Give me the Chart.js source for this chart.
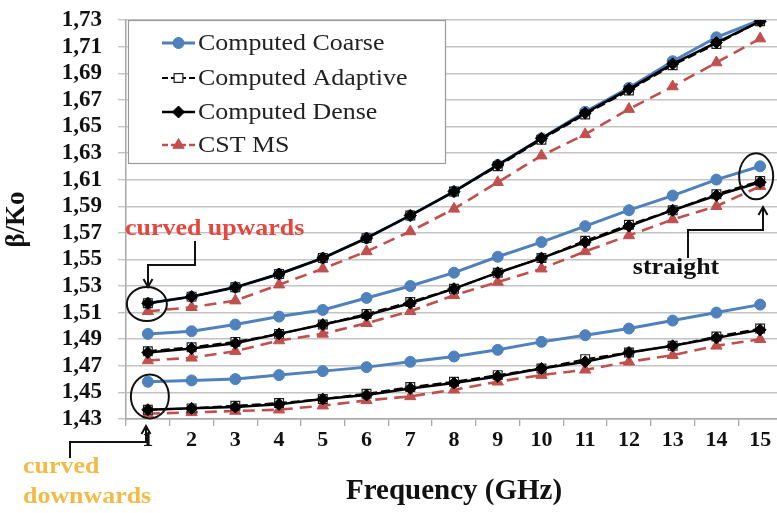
<!DOCTYPE html>
<html>
<head>
<meta charset="utf-8">
<script src="https://cdn.jsdelivr.net/npm/chart.js@4.4.1/dist/chart.umd.min.js"></script>
<style>
  html, body { margin: 0; padding: 0; background: #fff; overflow: hidden; }
  #wrap { width: 777px; height: 513px; overflow: hidden; position: relative; }
  canvas { display: block; }
</style>
</head>
<body>
<div id="wrap"><canvas id="c" width="790" height="513"></canvas></div>
<script>
// ---- data ----
const freqLabels = ['1','2','3','4','5','6','7','8','9','10','11','12','13','14','15'];

const coarseLow   = [1.458,1.459,1.460,1.463,1.466,1.469,1.473,1.477,1.482,1.488,1.493,1.498,1.504,1.510,1.516];
const coarseMid   = [1.494,1.496,1.501,1.507,1.512,1.521,1.530,1.540,1.552,1.563,1.575,1.587,1.598,1.610,1.620];
const coarseTop   = [1.517,1.522,1.529,1.539,1.551,1.566,1.583,1.601,1.621,1.641,1.661,1.679,1.699,1.717,1.730];

const adaptiveLow = [1.437,1.438,1.440,1.442,1.445,1.449,1.454,1.458,1.463,1.468,1.475,1.480,1.485,1.492,1.498];
const adaptiveMid = [1.481,1.484,1.488,1.494,1.501,1.509,1.518,1.528,1.540,1.551,1.564,1.576,1.587,1.599,1.609];
const adaptiveTop = [1.517,1.522,1.529,1.539,1.551,1.566,1.583,1.601,1.620,1.640,1.659,1.677,1.696,1.712,1.729];

const denseLow    = [1.437,1.438,1.439,1.441,1.445,1.448,1.453,1.457,1.462,1.468,1.473,1.480,1.485,1.491,1.497];
const denseMid    = [1.480,1.483,1.487,1.494,1.501,1.508,1.517,1.528,1.540,1.551,1.563,1.575,1.587,1.598,1.608];
const denseTop    = [1.517,1.522,1.529,1.539,1.551,1.566,1.583,1.601,1.621,1.641,1.660,1.678,1.697,1.713,1.729];

const cstLow      = [1.434,1.435,1.436,1.437,1.440,1.444,1.447,1.452,1.458,1.463,1.467,1.473,1.478,1.485,1.490];
const cstMid      = [1.474,1.476,1.481,1.489,1.494,1.502,1.511,1.523,1.533,1.543,1.556,1.568,1.580,1.590,1.605];
const cstTop      = [1.511,1.514,1.519,1.531,1.543,1.556,1.571,1.588,1.608,1.628,1.644,1.663,1.680,1.698,1.716];

const seriesNames = ['Computed Coarse','Computed Adaptive','Computed Dense','CST MS'];
const yMin = 1.43, yMax = 1.73, yStep = 0.02;

// ---- styles ----
const SERIF = "'Liberation Serif', 'Times New Roman', serif";
const STRETCH = 1.08;
const styles = {
  'Computed Coarse':   { borderColor:'#4f81bd', backgroundColor:'#4f81bd', borderWidth:3, borderDash:[], pointStyle:'circle', pointRadius:5.5, pointBorderColor:'#4f81bd', pointBorderWidth:1, order:2 },
  'Computed Adaptive': { borderColor:'#000', backgroundColor:'#fff', borderWidth:2, borderDash:[9,4], pointStyle:'rect', pointRadius:6.2, pointBorderColor:'#222', pointBorderWidth:1.2, order:1 },
  'Computed Dense':    { borderColor:'#000', backgroundColor:'#000', borderWidth:2.5, borderDash:[], pointStyle:'rectRot', pointRadius:6, pointBorderColor:'#000', pointBorderWidth:1, order:0 },
  'CST MS':            { borderColor:'#c0504d', backgroundColor:'#c0504d', borderWidth:2.6, borderDash:[12,7], pointStyle:'triangle', pointRadius:6.5, pointBorderColor:'#c0504d', pointBorderWidth:1, order:3 }
};

const groups = {
  'Computed Coarse':   [coarseLow, coarseMid, coarseTop],
  'Computed Adaptive': [adaptiveLow, adaptiveMid, adaptiveTop],
  'Computed Dense':    [denseLow, denseMid, denseTop],
  'CST MS':            [cstLow, cstMid, cstTop]
};

const datasets = [];
seriesNames.forEach(name => {
  groups[name].forEach((arr) => {
    const s = styles[name];
    datasets.push({
      label: name,
      data: arr,
      borderColor: s.borderColor,
      backgroundColor: s.backgroundColor,
      borderWidth: s.borderWidth,
      borderDash: s.borderDash,
      pointStyle: s.pointStyle,
      pointRadius: s.pointRadius,
      pointBackgroundColor: s.backgroundColor,
      pointBorderColor: s.pointBorderColor,
      pointBorderWidth: s.pointBorderWidth,
      tension: 0,
      fill: false,
      order: s.order
    });
  });
});

function stretchedText(ctx, text, x, y, align) {
  ctx.save();
  ctx.translate(x, y);
  ctx.scale(STRETCH, 1);
  ctx.textAlign = align || 'left';
  ctx.fillText(text, 0, 0);
  ctx.restore();
}

// ---- custom legend box inside the plot ----
const legendBox = {
  id: 'legendBox',
  afterDatasetsDraw(chart) {
    const ctx = chart.ctx;
    ctx.save();
    ctx.fillStyle = '#fff';
    ctx.strokeStyle = '#9a9a9a';
    ctx.lineWidth = 1.2;
    ctx.fillRect(128, 20, 317, 143);
    ctx.strokeRect(128.5, 20.5, 317, 143);
    const rows = [43, 78, 112, 145];
    seriesNames.forEach((name, i) => {
      const s = styles[name];
      const y = rows[i];
      ctx.strokeStyle = s.borderColor;
      ctx.lineWidth = s.borderWidth;
      ctx.setLineDash(s.borderDash.length ? [6,3] : []);
      ctx.beginPath(); ctx.moveTo(162, y); ctx.lineTo(195, y); ctx.stroke();
      ctx.setLineDash([]);
      ctx.fillStyle = s.backgroundColor;
      ctx.strokeStyle = s.pointBorderColor;
      ctx.lineWidth = s.pointBorderWidth;
      Chart.helpers.drawPoint(ctx, { pointStyle: s.pointStyle, radius: s.pointRadius, borderWidth: s.pointBorderWidth, rotation: 0 }, 178.5, y);
      ctx.fillStyle = '#222';
      ctx.font = "24px " + SERIF;
      ctx.textBaseline = 'middle';
      stretchedText(ctx, name, 198, y + 1, 'left');
    });
    ctx.restore();
  }
};

// ---- annotations (ellipses, arrows, notes) ----
function arrowHead(ctx, x, y, dir) {
  const d = dir === 'down' ? -1 : 1;
  ctx.beginPath();
  ctx.moveTo(x - 4.5, y + d * 8);
  ctx.lineTo(x, y);
  ctx.lineTo(x + 4.5, y + d * 8);
  ctx.stroke();
}
const notes = {
  id: 'notes',
  afterDraw(chart) {
    const ctx = chart.ctx;
    const xs = chart.scales.x, ys = chart.scales.y;
    ctx.save();
    ctx.strokeStyle = '#111';
    ctx.lineWidth = 2;
    // ellipses
    ctx.beginPath(); ctx.ellipse(xs.getPixelForValue(0) - 1, ys.getPixelForValue(1.5165), 20, 17, 0, 0, Math.PI * 2); ctx.stroke();
    ctx.beginPath(); ctx.ellipse(xs.getPixelForValue(0) + 2, ys.getPixelForValue(1.447), 19, 22, 0, 0, Math.PI * 2); ctx.stroke();
    ctx.beginPath(); ctx.ellipse(xs.getPixelForValue(14) - 4, ys.getPixelForValue(1.6125), 17, 23, 0, 0, Math.PI * 2); ctx.stroke();
    // bracket arrows
    ctx.beginPath(); ctx.moveTo(195, 241); ctx.lineTo(195, 265); ctx.lineTo(148, 265); ctx.lineTo(148, 286); ctx.stroke();
    arrowHead(ctx, 148, 287, 'down');
    ctx.beginPath(); ctx.moveTo(70, 458); ctx.lineTo(70, 442); ctx.lineTo(146, 442); ctx.lineTo(146, 427); ctx.stroke();
    arrowHead(ctx, 146, 426, 'up');
    ctx.beginPath(); ctx.moveTo(688, 258); ctx.lineTo(688, 230); ctx.lineTo(763, 230); ctx.lineTo(763, 208); ctx.stroke();
    arrowHead(ctx, 763, 207, 'up');
    // texts
    ctx.textBaseline = 'middle';
    ctx.font = "bold 24px " + SERIF;
    ctx.fillStyle = '#e3483f';
    stretchedText(ctx, 'curved upwards', 125, 229, 'left');
    ctx.fillStyle = '#f2bb48';
    stretchedText(ctx, 'curved', 23, 467, 'left');
    stretchedText(ctx, 'downwards', 23, 497, 'left');
    ctx.fillStyle = '#111';
    stretchedText(ctx, 'straight', 676, 268, 'center');
    ctx.restore();
  }
};

new Chart(document.getElementById('c'), {
  type: 'line',
  data: { labels: freqLabels, datasets },
  options: {
    responsive: false,
    animation: false,
    layout: { padding: { left: 0, right: 8, top: 20, bottom: 0 } },
    plugins: { legend: { display: false }, tooltip: { enabled: false } },
    scales: {
      x: {
        type: 'category',
        offset: true,
        grid: { offset: true, drawOnChartArea: false, drawTicks: true, tickLength: 7, color: '#a8a8a8', lineWidth: 1.3 },
        border: { color: '#a8a8a8', width: 1.5 },
        ticks: { color: '#111', font: { family: SERIF, size: 22, weight: 'bold' }, padding: 1, maxRotation: 0, autoSkip: false },
        title: { display: true, text: 'Frequency (GHz)', color: '#111', font: { family: SERIF, size: 29, weight: 'bold' }, padding: { top: 0, bottom: 4 } },
        afterFit(scale) { scale.height = 94; }
      },
      y: {
        min: yMin, max: yMax,
        grid: { color: '#c4c4c4', lineWidth: 1.4, drawTicks: true, tickLength: 8 },
        border: { color: '#a8a8a8', width: 1.5 },
        ticks: {
          stepSize: yStep, padding: 16, color: '#111', autoSkip: false,
          font: { family: SERIF, size: 23, weight: 'bold', lineHeight: 0.3 },
          callback: v => v.toFixed(2).replace('.', ',')
        },
        title: { display: true, text: 'β/Ko', color: '#111', font: { family: SERIF, size: 27, weight: 'bold' }, padding: { top: 1, bottom: 0 } },
        afterFit(scale) { scale.width = 126; }
      }
    }
  },
  plugins: [legendBox, notes]
});
</script>
</body>
</html>
